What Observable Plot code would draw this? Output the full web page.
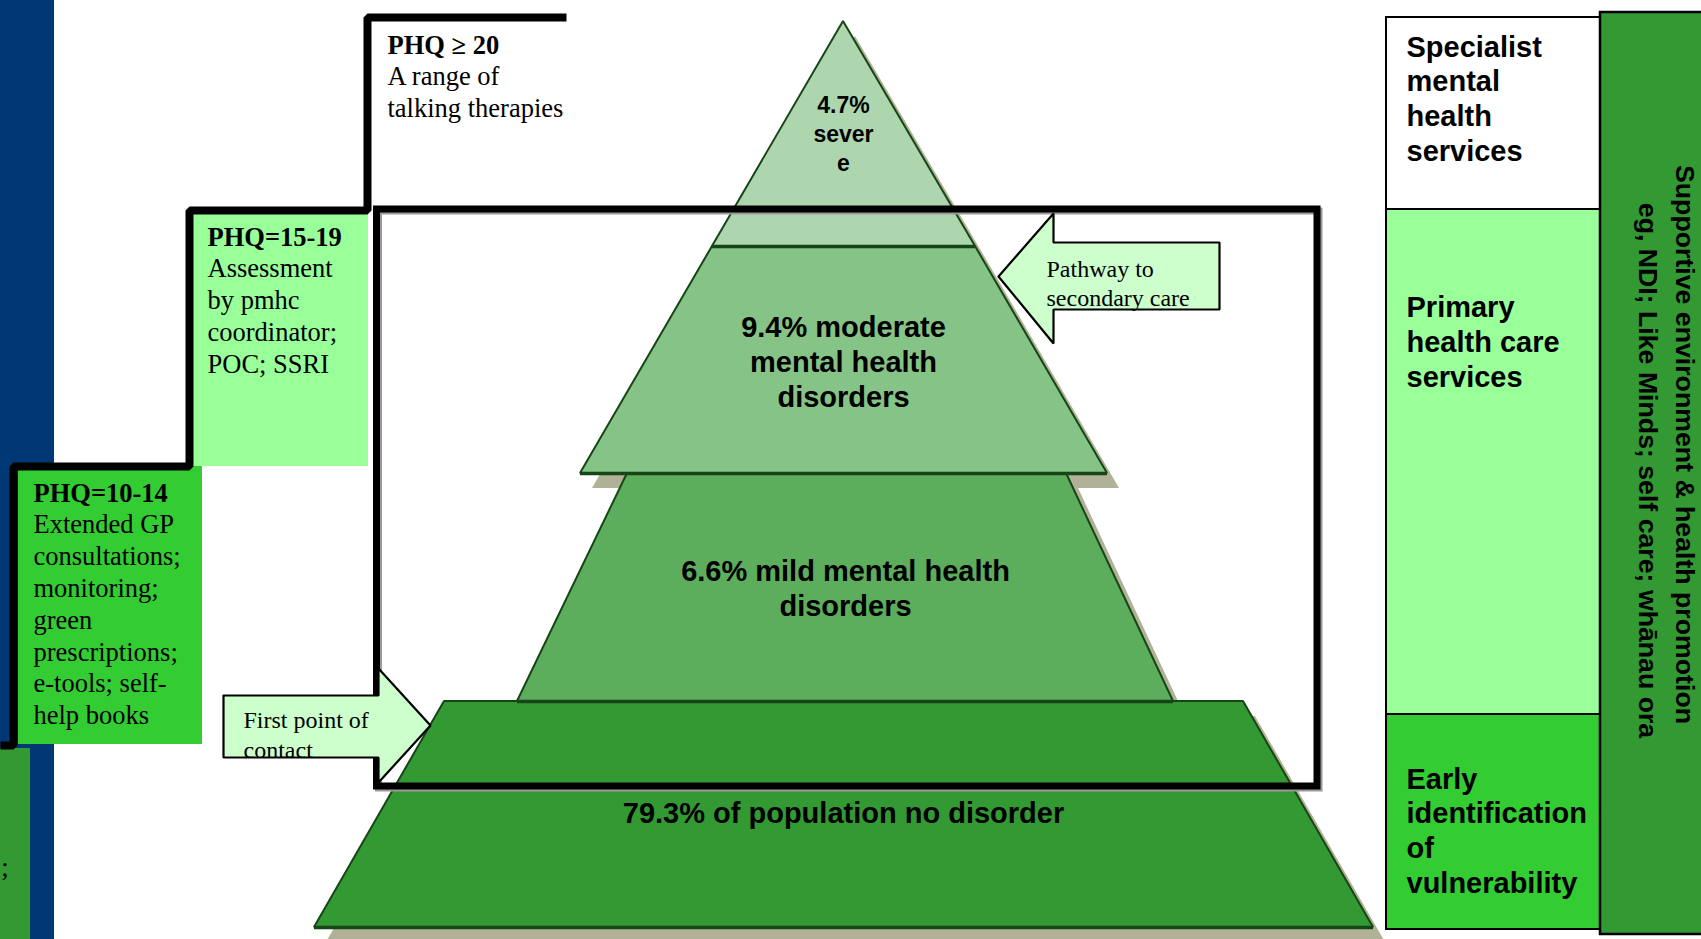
<!DOCTYPE html>
<html><head><meta charset="utf-8">
<script src="https://cdn.jsdelivr.net/npm/d3@7"></script>
<script src="https://cdn.jsdelivr.net/npm/@observablehq/plot@0.6"></script>
<style>html,body{margin:0;padding:0;background:#fff;overflow:hidden}#chart svg{display:block}</style>
</head><body><div id="chart"></div>
<script>
// ---- content ----
const pyramidLabels = ["4.7%\nsever\ne", "9.4% moderate\nmental health\ndisorders", "6.6% mild mental health\ndisorders", "79.3% of population no disorder"];
const pyramidPercent = [4.7, 9.4, 6.6, 79.3];
const stepTitles = ["PHQ=10-14", "PHQ=15-19", "PHQ \u2265 20"];
const stepBodies = [
  "Extended GP\nconsultations;\nmonitoring;\ngreen\nprescriptions;\ne-tools; self-\nhelp books",
  "Assessment\nby pmhc\ncoordinator;\nPOC; SSRI",
  "A range of\ntalking therapies"
];
const serviceLevels = ["Specialist\nmental\nhealth\nservices", "Primary\nhealth care\nservices", "Early\nidentification\nof\nvulnerability"];
const supportLines = ["Supportive environment & health promotion", "eg, NDI; Like Minds; self care; wh\u0101nau ora"];
const arrowLabels = ["Pathway to\nsecondary care", "First point of\ncontact"];

// ---- layout (diagram geometry in pixel units of the 1701x939 canvas) ----
const layerTop = [21, 246, 473, 701];
const layerBottom = [246, 473, 701, 927];
const layerTopLeft = [843, 712, 627, 444];
const layerTopRight = [843, 975, 1066, 1243];
const layerBottomLeft = [712, 580, 517, 314];
const layerBottomRight = [975, 1107, 1173, 1373];
const layerLabelX = [843, 843, 845, 843];
const layerLabelBaseline = [170, 406, 615, 822];

const stepBoxes = [
  {x1: 18, x2: 202, y1: 466, y2: 744, tx: 33, titleY: 501},
  {x1: 193, x2: 368, y1: 210, y2: 466, tx: 207, titleY: 245},
  {x1: 372, x2: 372, y1: 17, y2: 17, tx: 387, titleY: 53}
];
const stepPath = [[0,745],[13,745],[13,466],[189,466],[189,210],[367,210],[367,17],[566,17]];
const servicePanels = [
  {y1: 17, y2: 209, base: 160},
  {y1: 209, y2: 714, base: 386},
  {y1: 714, y2: 929, base: 892}
];
const pathwayArrow = [[998,276],[1053,213],[1053,242],[1219,242],[1219,309],[1053,309],[1053,343],[998,276]];
const contactArrow = [[223,695],[378,695],[378,668],[430,725],[378,782],[378,757],[223,757],[223,695]];
const supportX = [1675, 1638];
const supportY = [444, 470];

// ---- styles ----
const layerFill = ["#aed6ae", "#86c386", "#5cae5c", "#339933"];
const stepFill = ["#33cc33", "#99ff99", "none"];
const panelFill = ["#ffffff", "#99ff99", "#33cc33"];
const dark = "#174517";
const shadow = "#b1b197";
const serif = "Liberation Serif, Times New Roman, serif";
const sans = "Liberation Sans, Arial, sans-serif";

const marks = [];
// navy band and bottom-left block
marks.push(Plot.rect([{x1:0,x2:54,y1:0,y2:939}], {x1:"x1",x2:"x2",y1:"y1",y2:"y2",fill:"#003876"}));
marks.push(Plot.rect([{x1:0,x2:30,y1:748,y2:939}], {x1:"x1",x2:"x2",y1:"y1",y2:"y2",fill:"#339933"}));
marks.push(Plot.text([";"], {x: 8, y: 875, text: d => d, textAnchor: "end", lineAnchor: "bottom", fontFamily: serif, fontSize: 26.5, fill: "#000"}));
// step boxes
stepBoxes.forEach((b, i) => {
  if (stepFill[i] !== "none") marks.push(Plot.rect([b], {x1:"x1",x2:"x2",y1:"y1",y2:"y2",fill: stepFill[i]}));
});
marks.push(Plot.line(stepPath, {x: d => d[0], y: d => d[1], stroke: "#000", strokeWidth: 8, strokeLinejoin: "miter", strokeLinecap: "butt"}));
stepBoxes.forEach((b, i) => {
  marks.push(Plot.text([stepTitles[i]], {x: b.tx, y: b.titleY, text: d => d, textAnchor: "start", lineAnchor: "bottom", fontFamily: serif, fontWeight: "bold", fontSize: 26.5, fill: "#000"}));
  const n = stepBodies[i].split("\n").length;
  marks.push(Plot.text([stepBodies[i]], {x: b.tx, y: b.titleY + n * 31.8, text: d => d, textAnchor: "start", lineAnchor: "bottom", lineHeight: 1.2, fontFamily: serif, fontSize: 26.5, fill: "#000"}));
});

// pyramid
const layerPts = pyramidLabels.map((label, i) => [
  {y: layerTop[i], x1: layerTopLeft[i], x2: layerTopRight[i]},
  {y: layerBottom[i], x1: layerBottomLeft[i], x2: layerBottomRight[i]}
]);
layerPts.forEach(pts => marks.push(Plot.areaX(pts, {y: "y", x1: "x1", x2: "x2", fill: shadow, dx: 12, dy: 15})));
layerPts.forEach((pts, i) => marks.push(Plot.areaX(pts, {y: "y", x1: "x1", x2: "x2", fill: layerFill[i], stroke: dark, strokeWidth: 2, strokeLinejoin: "miter"})));
marks.push(Plot.ruleY(layerBottom.map((y, i) => ({y, x1: layerBottomLeft[i], x2: layerBottomRight[i]})), {y: "y", x1: "x1", x2: "x2", stroke: dark, strokeWidth: 3.5}));
pyramidLabels.forEach((label, i) => {
  const fs = i === 0 ? 23 : 29;
  marks.push(Plot.text([{label, pct: pyramidPercent[i]}], {x: layerLabelX[i], y: layerLabelBaseline[i], text: "label", textAnchor: "middle", lineAnchor: "bottom", lineHeight: i === 0 ? 1.24 : 1.2, fontFamily: sans, fontWeight: "bold", fontSize: fs, fill: "#000"}));
});

// big care box
marks.push(Plot.rect([{x1:376.5,x2:1317,y1:209,y2:786}], {x1:"x1",x2:"x2",y1:"y1",y2:"y2",fill:"none",stroke:"#9a9a9a",strokeWidth:7,dx:2,dy:2}));
marks.push(Plot.rect([{x1:376.5,x2:1317,y1:209,y2:786}], {x1:"x1",x2:"x2",y1:"y1",y2:"y2",fill:"none",stroke:"#000",strokeWidth:7}));

// arrows
[pathwayArrow, contactArrow].forEach(a => marks.push(Plot.line(a, {x: d => d[0], y: d => d[1], fill: "#ccffcc", stroke: "#000", strokeWidth: 2.2, strokeLinejoin: "miter"})));
marks.push(Plot.text([arrowLabels[0]], {x: 1046, y: 305, text: d => d, textAnchor: "start", lineAnchor: "bottom", lineHeight: 1.17, fontFamily: serif, fontSize: 24, fill: "#000"}));
marks.push(Plot.text([arrowLabels[1]], {x: 243, y: 757, text: d => d, textAnchor: "start", lineAnchor: "bottom", lineHeight: 1.21, fontFamily: serif, fontSize: 24, fill: "#000"}));

// right side service panels
servicePanels.forEach((p, i) => {
  marks.push(Plot.rect([p], {x1: 1386, x2: 1600, y1: "y1", y2: "y2", fill: panelFill[i], stroke: "#000", strokeWidth: 2}));
  marks.push(Plot.text([serviceLevels[i]], {x: 1406, y: p.base, text: d => d, textAnchor: "start", lineAnchor: "bottom", lineHeight: 1.19, fontFamily: sans, fontWeight: "bold", fontSize: 29, fill: "#000"}));
});
marks.push(Plot.rect([{x1:1600,x2:1704,y1:12,y2:934}], {x1:"x1",x2:"x2",y1:"y1",y2:"y2",fill:"#339933",stroke:"#000",strokeWidth:2.5}));
supportLines.forEach((t, i) => marks.push(Plot.text([t], {x: supportX[i], y: supportY[i], text: d => d, rotate: 90, textAnchor: "middle", lineAnchor: "bottom", fontFamily: sans, fontWeight: "bold", fontSize: 26.7, fill: "#000"})));

const svg = Plot.plot({
  width: 1701, height: 939, margin: 0,
  x: {domain: [0, 1701], range: [0, 1701], axis: null},
  y: {domain: [0, 939], range: [0, 939], axis: null},
  style: {background: "#fff", overflow: "hidden"},
  marks
});
document.getElementById("chart").appendChild(svg);
</script></body></html>
